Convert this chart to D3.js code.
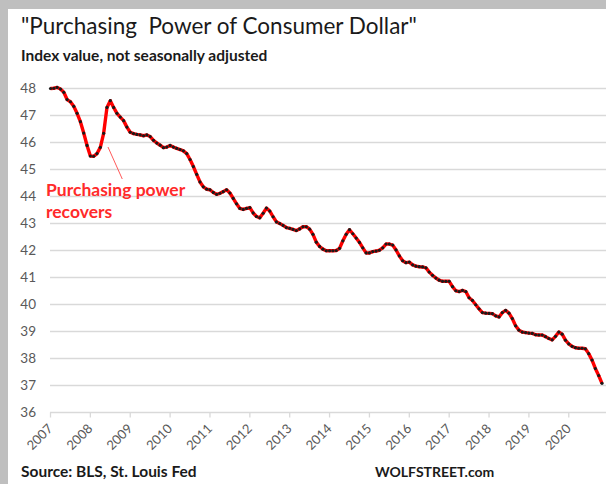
<!DOCTYPE html>
<html>
<head>
<meta charset="utf-8">
<script src="https://cdn.jsdelivr.net/npm/d3@7"></script>
<style>
  html, body { margin: 0; padding: 0; background: #fff; }
  svg { display: block; }
</style>
</head>
<body>
<script>
// Monthly index values (first month of 2007 onward)
const values = [
  48.00, 48.01, 48.04, 47.98, 47.86, 47.59, 47.51, 47.34, 47.08, 46.77, 46.35, 45.89,
  45.50, 45.49, 45.59, 45.82, 46.34, 47.30, 47.55, 47.30, 47.08, 46.94, 46.81, 46.57,
  46.38, 46.33, 46.30, 46.28, 46.25, 46.28, 46.22, 46.08, 45.98, 45.90, 45.81, 45.83,
  45.89, 45.83, 45.78, 45.74, 45.69, 45.59, 45.37, 45.11, 44.82, 44.54, 44.36, 44.27,
  44.25, 44.15, 44.08, 44.12, 44.18, 44.25, 44.13, 43.93, 43.73, 43.56, 43.52, 43.56,
  43.59, 43.39, 43.26, 43.21, 43.38, 43.57, 43.46, 43.25, 43.06, 43.00, 42.93, 42.85,
  42.82, 42.78, 42.74, 42.80, 42.88, 42.88, 42.79, 42.60, 42.31, 42.15, 42.05, 41.99,
  41.99, 41.99, 42.00, 42.08, 42.36, 42.60, 42.77, 42.62, 42.46, 42.30, 42.10, 41.91,
  41.91, 41.96, 41.98, 42.01, 42.10, 42.24, 42.24, 42.20, 42.02, 41.80, 41.62, 41.55,
  41.57, 41.47, 41.42, 41.40, 41.39, 41.36, 41.20, 41.08, 40.98, 40.90, 40.86, 40.86,
  40.86, 40.66, 40.51, 40.48, 40.52, 40.48, 40.25, 40.15, 39.99, 39.84, 39.70, 39.68,
  39.67, 39.66, 39.58, 39.54, 39.70, 39.78, 39.68, 39.48, 39.21, 39.05, 38.98, 38.96,
  38.94, 38.93, 38.88, 38.87, 38.87, 38.81, 38.74, 38.69, 38.82, 38.98, 38.90, 38.68,
  38.54, 38.45, 38.40, 38.38, 38.38, 38.36, 38.18, 37.94, 37.63, 37.37, 37.08
];
const years = [2007, 2008, 2009, 2010, 2011, 2012, 2013, 2014, 2015, 2016, 2017, 2018, 2019, 2020];
const yTicks = [36, 37, 38, 39, 40, 41, 42, 43, 44, 45, 46, 47, 48];

const width = 606, height = 484;
const font = "Lato, 'Open Sans', sans-serif";

const svg = d3.select("body").append("svg")
    .attr("width", width)
    .attr("height", height)
    .style("font-family", font);

// grey frame on the top and left, white card
svg.append("rect").attr("width", width).attr("height", height).attr("fill", "#bfbfbf");
svg.append("rect").attr("x", 8).attr("y", 9).attr("width", width - 8).attr("height", height - 9).attr("fill", "#fff");

const x = d3.scaleLinear().domain([0, values.length - 1]).range([50.5, 602]);
const y = d3.scaleLinear().domain([36, 48]).range([412.5, 88.5]);

// gridlines
svg.append("g")
    .selectAll("line")
    .data(yTicks)
    .join("line")
    .attr("x1", 50)
    .attr("x2", width)
    .attr("y1", d => y(d))
    .attr("y2", d => y(d))
    .attr("stroke", "#d9d9d9")
    .attr("stroke-width", 1.3);

// y labels
svg.append("g")
    .selectAll("text")
    .data(yTicks)
    .join("text")
    .attr("x", 36)
    .attr("y", d => y(d))
    .attr("dy", "0.35em")
    .attr("text-anchor", "end")
    .style("font-size", "13.5px")
    .style("fill", "#595959")
    .text(d => d);

// x axis ticks + rotated year labels
const xAxis = svg.append("g");
xAxis.selectAll("line")
    .data(years)
    .join("line")
    .attr("x1", (d, i) => x(i * 12))
    .attr("x2", (d, i) => x(i * 12))
    .attr("y1", y(36))
    .attr("y2", y(36) + 5)
    .attr("stroke", "#d9d9d9")
    .attr("stroke-width", 1.3);

xAxis.selectAll("text")
    .data(years)
    .join("text")
    .attr("transform", (d, i) => `translate(${x(i * 12) + 3},${y(36) + 17}) rotate(-45)`)
    .attr("text-anchor", "end")
    .style("font-size", "13px")
    .style("fill", "#595959")
    .text(d => d);

// line with dot markers
const line = d3.line()
    .x((d, i) => x(i))
    .y(d => y(d));

svg.append("path")
    .datum(values)
    .attr("d", line)
    .attr("fill", "none")
    .attr("stroke", "#ff0000")
    .attr("stroke-width", 3.4)
    .attr("stroke-linejoin", "round");

svg.append("g")
    .selectAll("circle")
    .data(values)
    .join("circle")
    .attr("cx", (d, i) => x(i))
    .attr("cy", d => y(d))
    .attr("r", 1.6)
    .attr("fill", "#1a1a1a");

// annotation
svg.append("line")
    .attr("x1", x(17) + 1).attr("y1", 147)
    .attr("x2", x(21) + 2).attr("y2", 179)
    .attr("stroke", "#ff5a5a")
    .attr("stroke-width", 1);

const ann = svg.append("text")
    .attr("x", 46)
    .attr("y", 196)
    .style("font-size", "17.5px")
    .style("font-weight", "bold")
    .style("fill", "#ff2a2a");
ann.append("tspan").attr("x", 46).text("Purchasing power");
ann.append("tspan").attr("x", 46).attr("dy", 22).text("recovers");

// titles
svg.append("text")
    .attr("x", 21)
    .attr("y", 34)
    .style("font-size", "22.5px")
    .style("fill", "#1a1a1a")
    .style("white-space", "pre")
    .text("\"Purchasing  Power of Consumer Dollar\"");

svg.append("text")
    .attr("x", 21)
    .attr("y", 61)
    .style("font-size", "15.5px")
    .style("font-weight", "bold")
    .style("fill", "#1a1a1a")
    .text("Index value, not seasonally adjusted");

// footer
svg.append("text")
    .attr("x", 21)
    .attr("y", 477)
    .style("font-size", "15.5px")
    .style("font-weight", "bold")
    .style("fill", "#1a1a1a")
    .text("Source: BLS, St. Louis Fed");

svg.append("text")
    .attr("x", 375)
    .attr("y", 477)
    .style("font-size", "14px")
    .style("font-weight", "bold")
    .style("fill", "#1a1a1a")
    .text("WOLFSTREET.com");
</script>
</body>
</html>
